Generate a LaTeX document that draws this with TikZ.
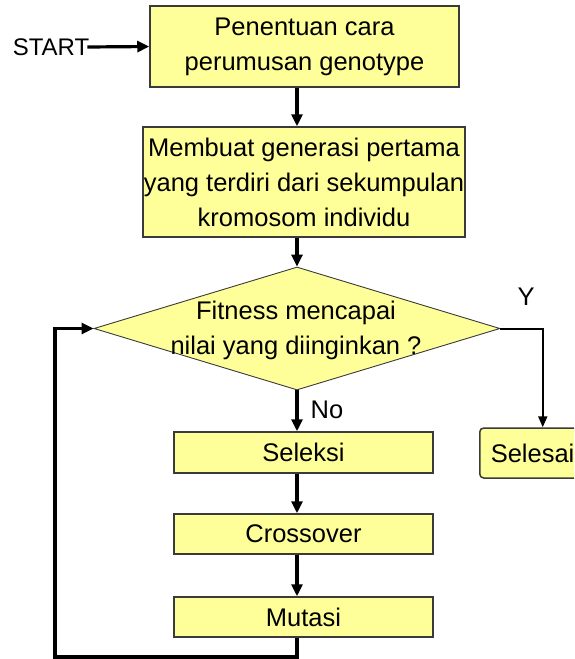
\documentclass[tikz,border=0pt]{standalone}
\usepackage{fontspec}
\setmainfont{Liberation Sans}
\usetikzlibrary{shapes.geometric,arrows.meta}
\definecolor{boxfill}{HTML}{FFFF99}
\definecolor{boxline}{HTML}{3A3A3A}
\tikzset{
  procbox/.style={draw=boxline, line width=1.5pt, fill=boxfill, align=center, inner sep=0pt},
  decbox/.style={diamond, draw=boxline, line width=0.9pt, fill=boxfill, inner sep=0pt},
  flow/.style={line width=3.2pt, -{Triangle[length=12pt,width=11pt]}},
  thinflow/.style={line width=2pt, -{Triangle[length=11pt,width=9pt]}},
  lbl/.style={inner sep=0pt}
}
\begin{document}
\begin{tikzpicture}[x=1pt,y=-1pt,font=\fontsize{25.5}{35}\selectfont]
\useasboundingbox (0,0) rectangle (574,659);
\clip (0,0) rectangle (574,659);
\fill[white] (0,0) rectangle (574,659);

\node[procbox, minimum width=309pt, minimum height=81pt] (b1) at (304.5,46.5) {Penentuan cara\\perumusan genotype};
\node[procbox, minimum width=322pt, minimum height=110pt] (b2) at (304,182) {Membuat generasi pertama\\yang terdiri dari sekumpulan\\kromosom individu};
\node[decbox, minimum width=406pt, minimum height=123pt] (dec) at (297,328.5) {};
\node[lbl, align=center] (dectext) at (296,330) {Fitness mencapai\\nilai yang diinginkan ?};
\node[procbox, minimum width=259pt, minimum height=41pt] (sel) at (303.5,452.5) {Seleksi};
\node[procbox, minimum width=259pt, minimum height=40pt] (cro) at (303.5,534) {Crossover};
\node[procbox, minimum width=259pt, minimum height=40pt] (mut) at (303.5,617) {Mutasi};
\node[procbox, rounded corners=4pt, anchor=west, minimum height=50pt, text width=104pt, align=left, inner xsep=11pt] (sls) at (479,453) {Selesai};

\node[lbl, font=\fontsize{24}{28}\selectfont] (start) at (51,47) {START};
\node[lbl] (ylab) at (526,297) {Y};
\node[lbl] (nolab) at (327,410) {No};
\coordinate (lb) at (55,657);

\draw[flow] ([xshift=-2pt]start.east) -- (b1.west);
\draw[flow] (b1.south -| dec.north) -- (b2.north -| dec.north);
\draw[flow] (b2.south -| dec.north) -- (dec.north);
\draw[flow] (dec.south) -- (sel.north -| dec.south);
\draw[flow] (sel.south -| dec.south) -- (cro.north -| dec.south);
\draw[flow] (cro.south -| dec.south) -- (mut.north -| dec.south);
\draw[flow] (mut.south -| dec.south) -- (lb -| dec.south) -- (lb) -- (lb |- dec.west) -- (dec.west);
\draw[thinflow] (dec.east) -- (dec.east -| sls.north) -- (sls.north);
\end{tikzpicture}
\end{document}
